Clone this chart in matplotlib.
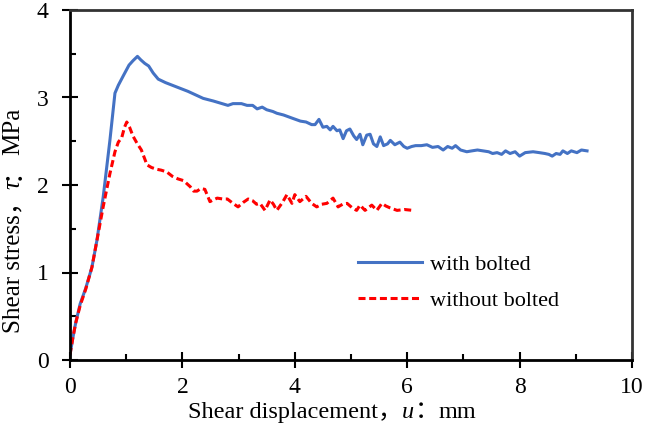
import numpy as np
import matplotlib
matplotlib.use("Agg")
import matplotlib.pyplot as plt

# data
x_bolt = [0.00, 0.05, 0.10, 0.18, 0.28, 0.39, 0.48, 0.59, 0.71, 0.80, 0.86, 0.95, 1.05, 1.12, 1.20,
          1.26, 1.33, 1.40, 1.48, 1.57, 1.70, 1.90, 2.10, 2.37, 2.55, 2.81, 2.90, 3.05, 3.15, 3.25,
          3.33, 3.42, 3.50, 3.61, 3.68, 3.80, 3.97, 4.10, 4.20, 4.30, 4.36, 4.43, 4.50, 4.57, 4.63,
          4.68, 4.75, 4.80, 4.86, 4.92, 4.98, 5.05, 5.10, 5.16, 5.21, 5.28, 5.34, 5.40, 5.46, 5.52,
          5.58, 5.65, 5.70, 5.78, 5.87, 5.94, 6.00, 6.08, 6.15, 6.25, 6.35, 6.45, 6.55, 6.64, 6.72,
          6.80, 6.86, 6.95, 7.06, 7.15, 7.25, 7.35, 7.45, 7.52, 7.60, 7.68, 7.75, 7.83, 7.92, 8.00,
          8.10, 8.24, 8.35, 8.45, 8.52, 8.58, 8.65, 8.72, 8.77, 8.85, 8.92, 9.02, 9.10, 9.20]
y_bolt = [0.06, 0.25, 0.42, 0.64, 0.82, 1.06, 1.37, 1.86, 2.51, 3.05, 3.14, 3.25, 3.37, 3.42, 3.47,
          3.43, 3.39, 3.36, 3.28, 3.21, 3.17, 3.12, 3.07, 2.99, 2.96, 2.91, 2.93, 2.93, 2.91, 2.91,
          2.87, 2.89, 2.86, 2.84, 2.82, 2.80, 2.76, 2.73, 2.72, 2.69, 2.69, 2.75, 2.66, 2.67, 2.63,
          2.67, 2.62, 2.63, 2.53, 2.62, 2.64, 2.56, 2.52, 2.58, 2.46, 2.57, 2.58, 2.47, 2.44, 2.55,
          2.45, 2.47, 2.51, 2.46, 2.49, 2.44, 2.42, 2.44, 2.45, 2.45, 2.46, 2.43, 2.44, 2.40, 2.44,
          2.42, 2.45, 2.40, 2.38, 2.39, 2.40, 2.39, 2.38, 2.36, 2.37, 2.35, 2.39, 2.36, 2.38, 2.33,
          2.37, 2.38, 2.37, 2.36, 2.35, 2.33, 2.36, 2.35, 2.39, 2.36, 2.39, 2.37, 2.40, 2.39]

x_nobolt = [0.00, 0.05, 0.10, 0.18, 0.28, 0.39, 0.48, 0.59, 0.71, 0.80, 0.86, 0.92, 0.97, 1.01, 1.06,
            1.12, 1.19, 1.27, 1.37, 1.45, 1.54, 1.62, 1.72, 1.82, 1.92, 2.02, 2.14, 2.20, 2.26, 2.33,
            2.40, 2.49, 2.55, 2.62, 2.72, 2.80, 2.90, 2.99, 3.08, 3.17, 3.25, 3.32, 3.38, 3.47, 3.56,
            3.62, 3.68, 3.78, 3.86, 3.95, 4.00, 4.09, 4.20, 4.30, 4.39, 4.48, 4.57, 4.68, 4.77, 4.85,
            4.93, 5.02, 5.10, 5.16, 5.25, 5.37, 5.46, 5.55, 5.62, 5.69, 5.82, 5.95, 6.10]
y_nobolt = [0.06, 0.25, 0.42, 0.62, 0.81, 1.06, 1.37, 1.75, 2.13, 2.38, 2.49, 2.54, 2.66, 2.72, 2.66,
            2.56, 2.48, 2.40, 2.23, 2.20, 2.18, 2.17, 2.15, 2.10, 2.07, 2.05, 1.98, 1.93, 1.93, 1.96,
            1.95, 1.81, 1.83, 1.85, 1.84, 1.84, 1.79, 1.75, 1.80, 1.84, 1.82, 1.78, 1.79, 1.71, 1.83,
            1.78, 1.71, 1.80, 1.89, 1.79, 1.89, 1.81, 1.87, 1.79, 1.75, 1.78, 1.79, 1.85, 1.75, 1.78,
            1.79, 1.74, 1.71, 1.77, 1.71, 1.77, 1.71, 1.79, 1.76, 1.74, 1.71, 1.72, 1.71]

serif = ['Liberation Serif', 'Noto Sans CJK SC', 'DejaVu Sans']
plt.rcParams['font.family'] = serif

W, H = 645, 423
fig = plt.figure(figsize=(W / 100, H / 100), dpi=100)
ax = fig.add_axes([70 / W, 1 - 360 / H, (632 - 70) / W, (360 - 10) / H])

ax.plot(x_bolt, y_bolt, color='#4472C4', lw=2.2, label='with bolted')
ax.plot(x_nobolt, y_nobolt, color='#FF0000', lw=2.2, dashes=(2.3, 1.2), label='without bolted')

ax.set_xlim(0, 10)
ax.set_ylim(0, 4)
ax.set_xticks(np.arange(0, 11, 2))
ax.set_xticks(np.arange(0, 11, 1), minor=True)
ax.set_yticks(np.arange(0, 5, 1))
ax.set_yticks(np.arange(0, 4.01, 0.5), minor=True)
ax.tick_params(which='major', direction='inout', length=11, width=1.5, labelsize=17, pad=10)
ax.tick_params(axis='x', which='major', pad=7)
ax.tick_params(which='minor', direction='in', length=4.5, width=1.5)
for s in ax.spines.values():
    s.set_linewidth(2)
    s.set_color('black')
ax.spines['top'].set_color('#333333')
ax.spines['right'].set_color('#333333')

ax.legend(loc='upper left', bbox_to_anchor=(358 / W, 1 - 254 / H), bbox_transform=fig.transFigure,
          frameon=False, fontsize=16, handlelength=2.9, handletextpad=0.35, labelspacing=0.7,
          borderpad=0, borderaxespad=0)

# axis labels built from pieces so the symbol can be italic
fig.canvas.draw()
renderer = fig.canvas.get_renderer()


def pieces(x0, y0, parts, rot):
    pos = x0 if rot == 0 else y0
    for txt, style in parts:
        if rot == 0:
            t = fig.text(pos / W, y0 / H, txt, ha='left', va='baseline', fontsize=17.5,
                         style=style, family=serif)
            pos += t.get_window_extent(renderer).width
        else:
            t = fig.text(x0 / W, pos / H, txt, ha='left', va='baseline', fontsize=18,
                         style=style, family=serif, rotation=90, rotation_mode='anchor')
            pos += t.get_window_extent(renderer).height


pieces(188, 5, [('Shear displacement，', 'normal'), ('u', 'italic'), ('：', 'normal'), ('mm', 'normal')], 0)
pieces(19, 90, [('Shear stress，', 'normal'), ('τ', 'italic'), ('：', 'normal'), ('MPa', 'normal')], 90)

fig.savefig('out.png', dpi=100)
